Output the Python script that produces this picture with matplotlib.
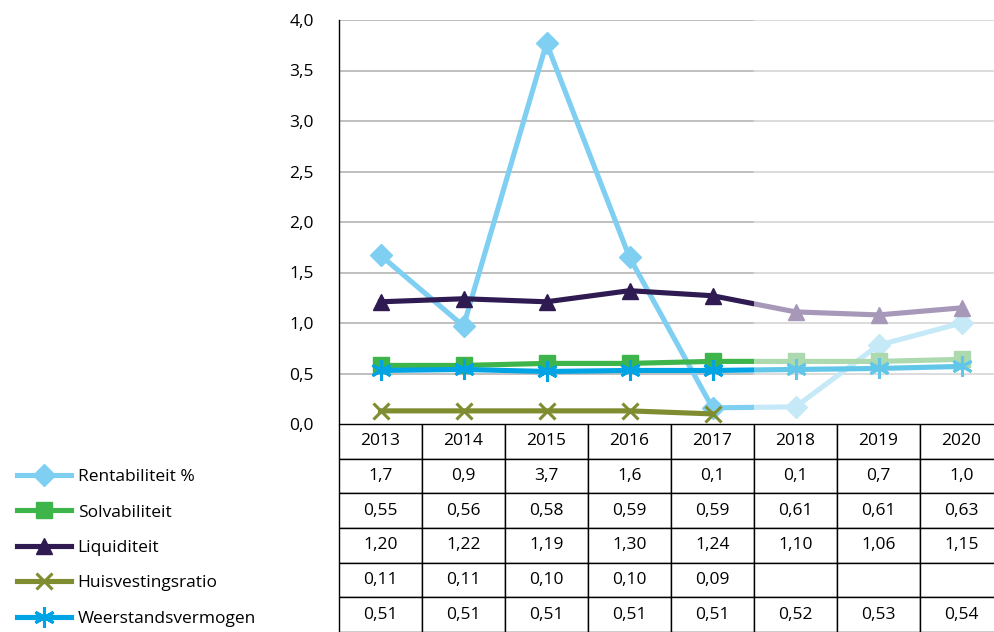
import numpy as np
import matplotlib
matplotlib.use('Agg')
import matplotlib.pyplot as plt
from matplotlib.patches import Rectangle
from matplotlib.lines import Line2D

plt.rcParams['font.family'] = ['Open Sans', 'DejaVu Sans']

# data
years = ['2013', '2014', '2015', '2016', '2017', '2018', '2019', '2020']

# values as drawn in the chart
rent = [1.67, 0.97, 3.77, 1.65, 0.16, 0.17, 0.78, 1.00]
solv = [0.58, 0.58, 0.60, 0.60, 0.62, 0.62, 0.62, 0.64]
liq = [1.21, 1.24, 1.21, 1.32, 1.27, 1.11, 1.08, 1.15]
huis = [0.13, 0.13, 0.13, 0.13, 0.10, np.nan, np.nan, np.nan]
weer = [0.53, 0.54, 0.52, 0.53, 0.53, 0.54, 0.55, 0.57]

# values as printed in the table
rent_txt = ['1,7', '0,9', '3,7', '1,6', '0,1', '0,1', '0,7', '1,0']
solv_txt = ['0,55', '0,56', '0,58', '0,59', '0,59', '0,61', '0,61', '0,63']
liq_txt = ['1,20', '1,22', '1,19', '1,30', '1,24', '1,10', '1,06', '1,15']
huis_txt = ['0,11', '0,11', '0,10', '0,10', '0,09', '', '', '']
weer_txt = ['0,51', '0,51', '0,51', '0,51', '0,51', '0,52', '0,53', '0,54']

labels = ['Rentabiliteit %', 'Solvabiliteit', 'Liquiditeit', 'Huisvestingsratio', 'Weerstandsvermogen']

# (dark colour, forecast colour, marker, size)
styles = [
    ('#7fcff2', '#c6e9f8', 'D', 11),
    ('#3db54a', '#acd9ad', 's', 11),
    ('#2f1a52', '#a797b9', '^', 12),
    ('#7f8c30', '#c0c697', 'x', 12),
    ('#00a4e4', '#62c6e8', (6, 2, 0), 15),
]
series = [rent, solv, liq, huis, weer]

fig = plt.figure(figsize=(9.94, 6.32), dpi=100)
W, H = 994, 632
ax = fig.add_axes([339 / W, (H - 424) / H, 664 / W, 404 / H])

x = np.arange(len(years))
split = 4.5  # forecast starts after 2017

# gridlines, lighter in forecast part
for v in np.arange(0.5, 4.01, 0.5):
    ax.plot([-0.5, split], [v, v], color='#b4b4b4', lw=1.2, zorder=1)
    ax.plot([split, 7.5], [v, v], color='#d6d6d6', lw=1.2, zorder=1)


def edge_w(mk):
    return 2.2 if mk == 'x' or isinstance(mk, tuple) else 1


for i, (vals, (c_dark, c_light, mk, ms)) in enumerate(zip(series, styles)):
    l1, = ax.plot(x, vals, color=c_dark, lw=3.7, marker=mk, ms=ms, mew=edge_w(mk),
                  mec=c_dark, solid_joinstyle='round', zorder=3 + i)
    l1.set_clip_path(Rectangle((-1, -1), split + 1, 10, transform=ax.transData))
    l2, = ax.plot(x, vals, color=c_light, lw=3.7, marker=mk, ms=ms, mew=edge_w(mk),
                  mec=c_light, solid_joinstyle='round', zorder=3 + i)
    l2.set_clip_path(Rectangle((split, -1), 10, 10, transform=ax.transData))

ax.set_xlim(-0.5, 7.5)
ax.set_ylim(0, 4)
ax.set_yticks(np.arange(0, 4.01, 0.5))
ax.set_yticklabels([f'{v:.1f}'.replace('.', ',') for v in np.arange(0, 4.01, 0.5)])
ax.tick_params(axis='y', length=0, pad=18, labelsize=12.5)
ax.set_xticks([])
for s in ['top', 'right', 'bottom']:
    ax.spines[s].set_visible(False)
ax.spines['left'].set_color('black')
ax.spines['left'].set_linewidth(1)

# data table under the chart
cells = [years, rent_txt, solv_txt, liq_txt, huis_txt, weer_txt]
th = 208 / 404
tab = ax.table(cellText=cells, cellLoc='center', bbox=[0, -th, 1, th])
tab.auto_set_font_size(False)
tab.set_fontsize(12.5)
for (r, c), cell in tab.get_celld().items():
    cell.set_edgecolor('black')
    cell.set_linewidth(1)
tab.set_clip_on(False)

# legend on the left, aligned with the table rows
handles = [Line2D([], [], color=c_dark, lw=3.7, marker=mk, ms=ms, mew=edge_w(mk), mec=c_dark)
           for (c_dark, c_light, mk, ms) in styles]
fig.legend(handles, labels, loc='upper left', bbox_to_anchor=(0.01, (H - 462) / H),
           frameon=False, fontsize=12.5, handlelength=3.1, handletextpad=0.4,
           labelspacing=1.11, borderaxespad=0)

fig.savefig('out.png', dpi=100)
